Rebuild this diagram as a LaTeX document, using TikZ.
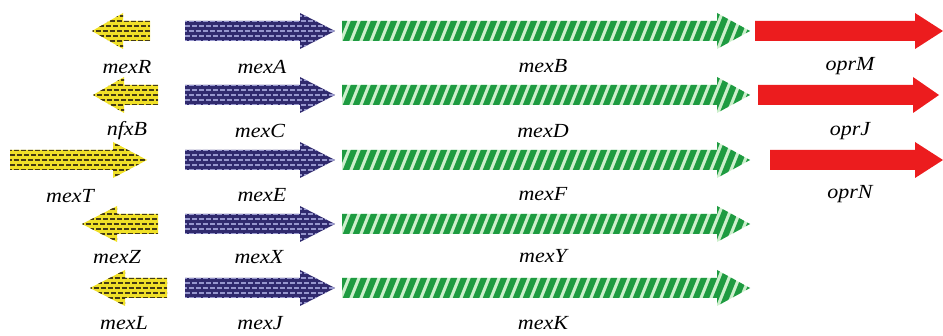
\documentclass[tikz,border=0pt]{standalone}
\usepackage{fontspec}
\setmainfont{Liberation Serif}
\definecolor{yelc}{RGB}{240,224,40}
\definecolor{yeld}{RGB}{70,60,20}
\definecolor{bluc}{RGB}{48,42,110}
\definecolor{blud}{RGB}{150,150,205}
\definecolor{grnc}{RGB}{30,155,65}
\definecolor{grnl}{RGB}{205,240,205}
\definecolor{redc}{RGB}{236,28,30}
\tikzset{
  lab/.style={font=\itshape\fontsize{20}{20}\selectfont, inner sep=0pt, text=black},
  brkA/.style={line width=1.3pt, dash pattern=on 5pt off 2pt},
  brkB/.style={line width=1.3pt, dash pattern=on 5pt off 2pt, dash phase=3.5pt},
}
% right-pointing arrow shape: tail x, head-base x, tip x, y
\newcommand\ShapeR[4]{(#1,#4-10) -- (#2,#4-10) -- (#2,#4-18) -- (#3,#4) -- (#2,#4+18) -- (#2,#4+10) -- (#1,#4+10) -- cycle}
% left-pointing arrow shape: tip x, head-base x, tail x, y
\newcommand\ShapeL[4]{(#1,#4) -- (#2,#4-18) -- (#2,#4-10) -- (#3,#4-10) -- (#3,#4+10) -- (#2,#4+10) -- (#2,#4+18) -- cycle}
\newcommand\BrickRows[4]{% x1, x2, y, colour
  \foreach \k in {0,2,4,6}{\draw[brkA,#4] (#1,#3-15+5*\k) -- (#2,#3-15+5*\k);}
  \foreach \k in {1,3,5}{\draw[brkB,#4] (#1,#3-15+5*\k) -- (#2,#3-15+5*\k);}
}
\newcommand\YelR[4]{\begin{scope}\clip \ShapeR{#1}{#2}{#3}{#4};
  \fill[yelc] (#1-2,#4-20) rectangle (#3+2,#4+20);
  \BrickRows{#1}{#3}{#4}{yeld}\end{scope}}
\newcommand\YelL[4]{\begin{scope}\clip \ShapeL{#1}{#2}{#3}{#4};
  \fill[yelc] (#1-2,#4-20) rectangle (#3+2,#4+20);
  \BrickRows{#1}{#3}{#4}{yeld}\end{scope}}
\newcommand\BluR[4]{\begin{scope}\clip \ShapeR{#1}{#2}{#3}{#4};
  \fill[bluc] (#1-2,#4-20) rectangle (#3+2,#4+20);
  \BrickRows{#1}{#3}{#4}{blud}\end{scope}}
\newcommand\GrnR[4]{\begin{scope}\clip \ShapeR{#1}{#2}{#3}{#4};
  \fill[grnl] (#1-2,#4-20) rectangle (#3+2,#4+20);
  \foreach \i in {0,...,44}{\draw[grnc, line width=6pt] (#1-20+10*\i,#4+20) -- (#1-4+10*\i,#4-20);}
  \end{scope}}
\newcommand\RedR[4]{\fill[redc] \ShapeR{#1}{#2}{#3}{#4};}
\begin{document}
\begin{tikzpicture}[x=1pt,y=-1pt]
\useasboundingbox[fill=white] (0,0) rectangle (943,336);
% row 1
\YelL{92}{123}{150}{31}
\BluR{185}{300}{335}{31}
\GrnR{342}{717}{750}{31}
\RedR{755}{915}{943}{31}
% row 2
\YelL{93}{124}{158}{95}
\BluR{185}{300}{335}{95}
\GrnR{342}{717}{750}{95}
\RedR{758}{913}{939}{95}
% row 3
\YelR{10}{113}{147}{160}
\BluR{185}{300}{335}{160}
\GrnR{342}{717}{750}{160}
\RedR{770}{915}{943}{160}
% row 4
\YelL{82}{117}{158}{224}
\BluR{185}{300}{335}{224}
\GrnR{342}{717}{750}{224}
% row 5
\YelL{90}{125}{167}{288}
\BluR{185}{300}{335}{288}
\GrnR{342}{717}{750}{288}
% labels
\node[lab] (mexR) at (127,67) {\scalebox{1.1}[1]{mexR}};
\node[lab] (mexA) at (262,67) {\scalebox{1.1}[1]{mexA}};
\node[lab] (mexB) at (543,66) {\scalebox{1.1}[1]{mexB}};
\node[lab] (oprM) at (850,66) {\scalebox{1.1}[1]{oprM}};
\node[lab] (nfxB) at (127,131) {\scalebox{1.1}[1]{nfxB}};
\node[lab] (mexC) at (260,131) {\scalebox{1.1}[1]{mexC}};
\node[lab] (mexD) at (543,131) {\scalebox{1.1}[1]{mexD}};
\node[lab] (oprJ) at (850,131) {\scalebox{1.1}[1]{oprJ}};
\node[lab] (mexT) at (70,196) {\scalebox{1.1}[1]{mexT}};
\node[lab] (mexE) at (262,195) {\scalebox{1.1}[1]{mexE}};
\node[lab] (mexF) at (543,194) {\scalebox{1.1}[1]{mexF}};
\node[lab] (oprN) at (850,194) {\scalebox{1.1}[1]{oprN}};
\node[lab] (mexZ) at (117,257) {\scalebox{1.1}[1]{mexZ}};
\node[lab] (mexX) at (259,257) {\scalebox{1.1}[1]{mexX}};
\node[lab] (mexY) at (543,256) {\scalebox{1.1}[1]{mexY}};
\node[lab] (mexL) at (124,323) {\scalebox{1.1}[1]{mexL}};
\node[lab] (mexJ) at (260,323) {\scalebox{1.1}[1]{mexJ}};
\node[lab] (mexK) at (543,323) {\scalebox{1.1}[1]{mexK}};
\end{tikzpicture}
\end{document}
